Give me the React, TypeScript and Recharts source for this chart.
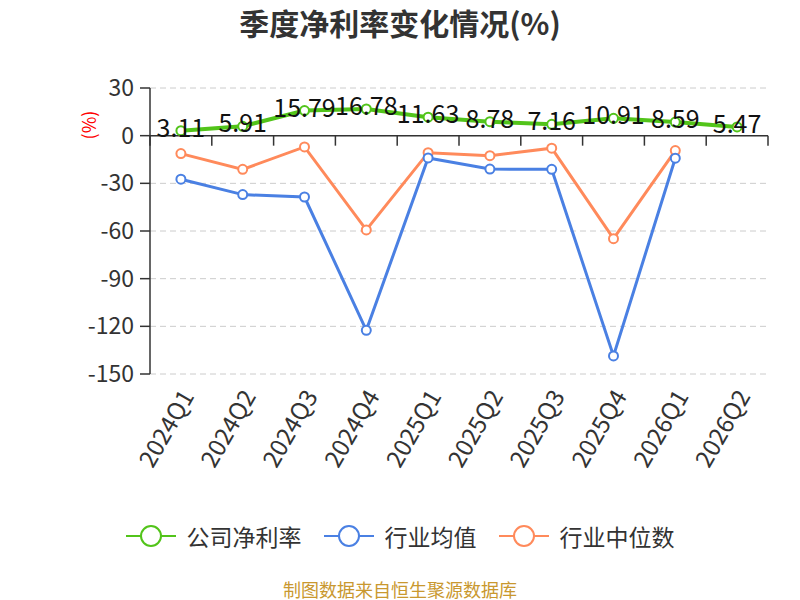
import React from 'react';
import { LineChart, Line, XAxis, YAxis, CartesianGrid, ReferenceLine, LabelList } from 'recharts';

const quarters = ['2024Q1', '2024Q2', '2024Q3', '2024Q4', '2025Q1', '2025Q2', '2025Q3', '2025Q4', '2026Q1', '2026Q2'];
const companyMargin = [3.11, 5.91, 15.79, 16.78, 11.63, 8.78, 7.16, 10.91, 8.59, 5.47];
const industryAvg = [-27.4, -37.1, -38.6, -122.5, -14.0, -21.0, -21.2, -138.6, -14.2, null];
const industryMedian = [-11.3, -21.2, -7.1, -59.3, -10.7, -12.6, -7.9, -64.8, -9.4, null];
const yTicks = [-150, -120, -90, -60, -30, 0, 30];

const seriesNames = ['公司净利率', '行业均值', '行业中位数'];
const colors = ['#52c41a', '#4a80e3', '#ff8a5b'];

const FONT = "'Noto Sans CJK SC', 'Noto Sans', sans-serif";

// plot box
const PLOT_LEFT = 150;
const PLOT_RIGHT = 768;
const PLOT_TOP = 88;
const PLOT_BOTTOM = 374;
const Y_AXIS_W = 70;
const X_AXIS_H = 110;
const BAND = (PLOT_RIGHT - PLOT_LEFT) / quarters.length;
const ZERO_Y = PLOT_TOP + (PLOT_BOTTOM - PLOT_TOP) * (30 / 180);

const data = quarters.map((q, i) => ({
  quarter: q,
  company: companyMargin[i],
  avg: industryAvg[i],
  median: industryMedian[i],
}));

const QuarterTick = (props: any) => {
  const { x, y, payload, index } = props;
  const isLast = index === quarters.length - 1;
  return (
    <g>
      {/* ticks sit on the zero line, at the band edges */}
      <line x1={x - BAND / 2} x2={x - BAND / 2} y1={ZERO_Y} y2={ZERO_Y + 10} stroke="#333" strokeWidth={1.5} />
      {isLast && (
        <line x1={x + BAND / 2} x2={x + BAND / 2} y1={ZERO_Y} y2={ZERO_Y + 10} stroke="#333" strokeWidth={1.5} />
      )}
      <text
        x={x + 5}
        y={y + 9}
        transform={`rotate(-60, ${x + 5}, ${y + 9})`}
        textAnchor="end"
        dominantBaseline="central"
        fontSize={24}
        fill="#333"
        fontFamily={FONT}
      >
        {payload.value}
      </text>
    </g>
  );
};

const ValueLabel = (props: any) => {
  const { x, y, value } = props;
  if (value == null) return null;
  return (
    <text x={x} y={y + 6} textAnchor="middle" fontSize={25} fill="#111" fontFamily={FONT}>
      {value.toFixed(2)}
    </text>
  );
};

const LegendRow = () => (
  <div
    style={{
      position: 'absolute',
      top: 519,
      left: 0,
      width: 800,
      display: 'flex',
      justifyContent: 'center',
      gap: 22,
      fontFamily: FONT,
      fontSize: 23,
      color: '#333',
    }}
  >
    {seriesNames.map((name, i) => (
      <div key={name} style={{ display: 'flex', alignItems: 'center' }}>
        <svg width={50} height={30} style={{ marginRight: 11 }}>
          <line x1={0} x2={50} y1={15} y2={15} stroke={colors[i]} strokeWidth={2} />
          <circle cx={25} cy={15} r={10} fill="#fff" stroke={colors[i]} strokeWidth={2} />
        </svg>
        <span>{name}</span>
      </div>
    ))}
  </div>
);

export default function App() {
  return (
    <div style={{ position: 'absolute', left: 0, top: 0, width: 800, height: 600, background: '#fff', fontFamily: FONT }}>
      <div
        style={{
          position: 'absolute',
          top: 0,
          left: 0,
          width: 800,
          textAlign: 'center',
          fontSize: 30,
          fontWeight: 'bold',
          color: '#333',
        }}
      >
        季度净利率变化情况(%)
      </div>

      <LineChart
        width={800}
        height={600}
        data={data}
        margin={{ top: PLOT_TOP, left: PLOT_LEFT - Y_AXIS_W, right: 800 - PLOT_RIGHT, bottom: 600 - PLOT_BOTTOM - X_AXIS_H }}
      >
        <CartesianGrid vertical={false} stroke="#ccc" strokeDasharray="6 4" />
        <XAxis
          dataKey="quarter"
          type="category"
          height={X_AXIS_H}
          interval={0}
          padding={{ left: BAND / 2, right: BAND / 2 }}
          axisLine={false}
          tickLine={false}
          tick={<QuarterTick />}
        />
        <YAxis
          width={Y_AXIS_W}
          domain={[-150, 30]}
          ticks={yTicks}
          interval={0}
          axisLine={{ stroke: '#333', strokeWidth: 1.5 }}
          tickLine={{ stroke: '#333', strokeWidth: 1.5 }}
          tickSize={10}
          tickMargin={6}
          tick={{ fontSize: 23, fill: '#333', fontFamily: FONT }}
        />
        <ReferenceLine y={0} stroke="#333" strokeWidth={1.5} />
        <Line
          dataKey="median"
          stroke={colors[2]}
          strokeWidth={3}
          dot={{ r: 4.5, fill: '#fff', stroke: colors[2], strokeWidth: 2 }}
          isAnimationActive={false}
        />
        <Line
          dataKey="avg"
          stroke={colors[1]}
          strokeWidth={3}
          dot={{ r: 4.5, fill: '#fff', stroke: colors[1], strokeWidth: 2 }}
          isAnimationActive={false}
        />
        <Line
          dataKey="company"
          stroke={colors[0]}
          strokeWidth={4}
          dot={{ r: 4.5, fill: '#fff', stroke: colors[0], strokeWidth: 2 }}
          isAnimationActive={false}
        >
          <LabelList dataKey="company" content={<ValueLabel />} />
        </Line>
      </LineChart>

      <div
        style={{
          position: 'absolute',
          left: 88,
          top: 125,
          transform: 'translate(-50%, -50%) rotate(-90deg)',
          color: 'red',
          fontSize: 18,
          lineHeight: '20px',
        }}
      >
        (%)
      </div>

      <LegendRow />

      <div
        style={{
          position: 'absolute',
          top: 580,
          left: 0,
          width: 800,
          textAlign: 'center',
          fontSize: 18,
          lineHeight: '18px',
          color: '#c9982f',
        }}
      >
        制图数据来自恒生聚源数据库
      </div>
    </div>
  );
}
